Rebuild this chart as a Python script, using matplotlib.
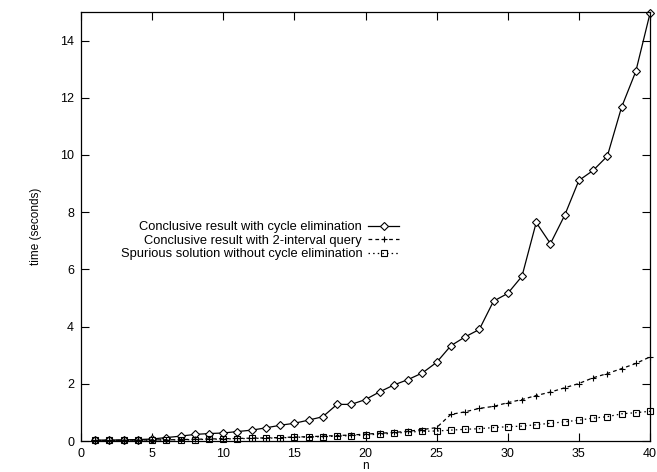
import matplotlib
matplotlib.use("Agg")
import matplotlib.pyplot as plt

n = list(range(1, 41))
cycle_elim = [0.03, 0.03, 0.04, 0.05, 0.07, 0.12, 0.17, 0.23, 0.26, 0.28,
              0.33, 0.38, 0.46, 0.55, 0.62, 0.73, 0.85, 1.28, 1.28, 1.45,
              1.72, 1.96, 2.15, 2.38, 2.75, 3.33, 3.64, 3.9, 4.89, 5.16,
              5.76, 7.64, 6.9, 7.89, 9.11, 9.46, 9.96, 11.67, 12.92, 14.95]
two_interval = [0.02, 0.02, 0.03, 0.03, 0.04, 0.04, 0.05, 0.06, 0.07, 0.08,
                0.09, 0.10, 0.11, 0.12, 0.14, 0.15, 0.17, 0.19, 0.21, 0.24,
                0.27, 0.30, 0.34, 0.40, 0.47, 0.93, 1.02, 1.14, 1.21, 1.34,
                1.45, 1.59, 1.71, 1.86, 2.01, 2.21, 2.36, 2.53, 2.71, 2.94]
spurious = [0.02, 0.02, 0.02, 0.03, 0.03, 0.04, 0.04, 0.05, 0.06, 0.07,
            0.08, 0.09, 0.10, 0.11, 0.13, 0.14, 0.15, 0.17, 0.19, 0.21,
            0.24, 0.27, 0.31, 0.34, 0.35, 0.38, 0.41, 0.43, 0.47, 0.50,
            0.52, 0.57, 0.62, 0.67, 0.73, 0.80, 0.85, 0.95, 0.99, 1.04]
labels = ["Conclusive result with cycle elimination",
          "Conclusive result with 2-interval query",
          "Spurious solution without cycle elimination"]
xticks = [0, 5, 10, 15, 20, 25, 30, 35, 40]
yticks = [0, 2, 4, 6, 8, 10, 12, 14]

plt.rcParams['font.family'] = ['Liberation Sans', 'DejaVu Sans']
fig = plt.figure(figsize=(6.57, 4.72), dpi=100)
ax = fig.add_axes([81/657, 31/472, (650-81)/657, (441-12)/472])

ax.plot(n, cycle_elim, color='black', lw=0.9, marker='D', ms=3.6,
        mfc='white', mec='black', mew=0.8, label=labels[0], clip_on=False)
ax.plot(n, two_interval, color='black', lw=0.9, ls=(0, (3, 2.5)), marker='+', ms=5,
        mew=0.8, label=labels[1], clip_on=False)
ax.plot(n, spurious, color='black', lw=0.9, ls=(0, (1.2, 2.5)), marker='s', ms=4.3,
        mfc='none', mec='black', mew=0.8, label=labels[2], clip_on=False)

ax.set_xlim(0, 40)
ax.set_ylim(0, 15)
ax.set_xticks(xticks)
ax.set_yticks(yticks)
ax.tick_params(direction='in', length=6, width=0.8, top=True, right=True,
               labelsize=9, pad=5)
for s in ax.spines.values():
    s.set_linewidth(0.9)
ax.set_xlabel('n', fontsize=8.5, labelpad=0)
ax.set_ylabel('time (seconds)', fontsize=8.5, labelpad=13)

leg = ax.legend(loc='upper right', bbox_to_anchor=(399/657, (472-221)/472),
                bbox_transform=fig.transFigure, frameon=False, markerfirst=False,
                fontsize=9.3, handlelength=2.4, handletextpad=0.45,
                labelspacing=0.12, borderaxespad=0, borderpad=0)
for t in leg.get_texts():
    t.set_ha('right')
leg._legend_box.align = 'right'

fig.savefig('out.png', dpi=100)
